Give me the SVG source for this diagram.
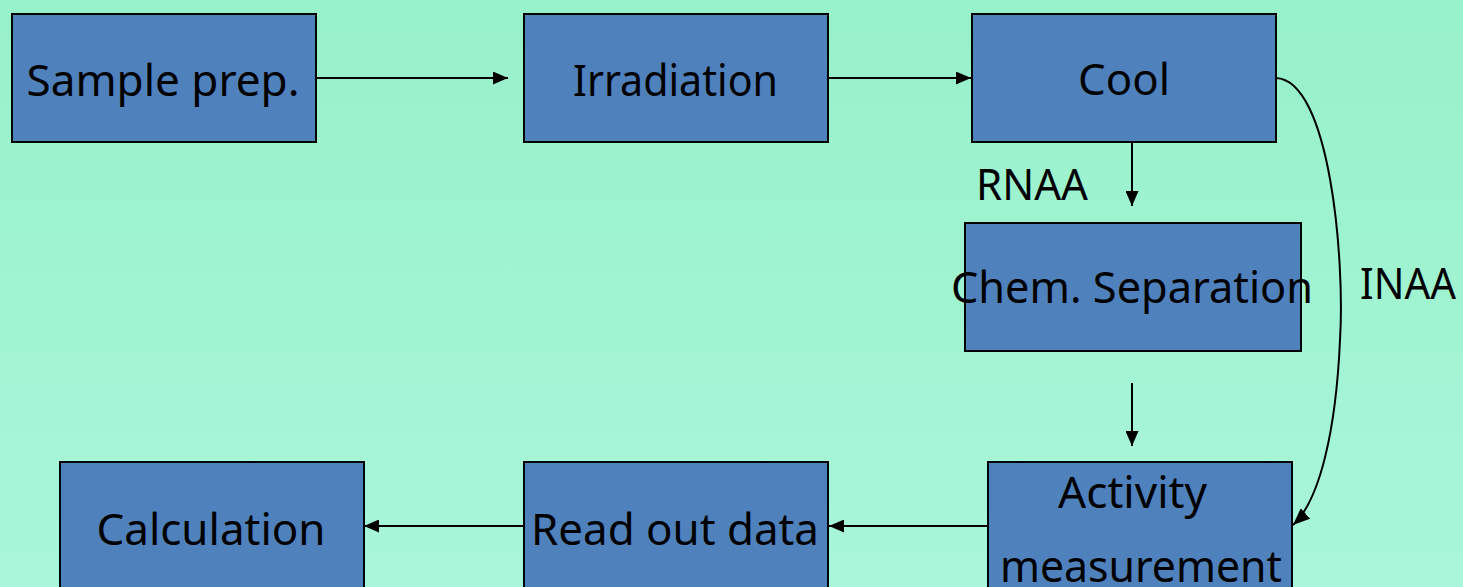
<svg xmlns="http://www.w3.org/2000/svg" width="1463" height="587" viewBox="0 0 1463 587">
<defs>
<linearGradient id="bg" x1="0" y1="0" x2="0" y2="1">
<stop offset="0" stop-color="#97f1c9"/>
<stop offset="1" stop-color="#a9f6da"/>
</linearGradient>
<marker id="ah" viewBox="0 0 10 10" refX="10" refY="5" markerWidth="15" markerHeight="13" markerUnits="userSpaceOnUse" orient="auto" preserveAspectRatio="none">
<path d="M0,0 L10,5 L0,10 z" fill="#000"/>
</marker>
<marker id="ahc" viewBox="0 0 10 10" refX="10" refY="5" markerWidth="17" markerHeight="14" markerUnits="userSpaceOnUse" orient="auto" preserveAspectRatio="none">
<path d="M0,0 L10,5 L0,10 z" fill="#000"/>
</marker>
</defs>
<style>
.box{fill:#4f81bd;stroke:#000;stroke-width:2}
.t{font-family:"Noto Sans","Open Sans",sans-serif;font-size:43px;fill:#000;text-anchor:middle}
.c{fill:none;stroke:#000;stroke-width:2}
</style>
<rect width="1463" height="587" fill="url(#bg)"/>
<g id="sample"><rect class="box" x="12" y="14" width="304" height="128"/><text class="t" x="163" y="96" textLength="273" lengthAdjust="spacingAndGlyphs">Sample prep.</text></g>
<g id="irradiation"><rect class="box" x="524" y="14" width="304" height="128"/><text class="t" x="675.5" y="96" textLength="205" lengthAdjust="spacingAndGlyphs">Irradiation</text></g>
<g id="cool"><rect class="box" x="972" y="14" width="304" height="128"/><text class="t" x="1124" y="95" textLength="92" lengthAdjust="spacingAndGlyphs">Cool</text></g>
<g id="chem"><rect class="box" x="965" y="223" width="336" height="128"/><text class="t" x="1132" y="303" textLength="362" lengthAdjust="spacingAndGlyphs">Chem. Separation</text></g>
<g id="activity"><rect class="box" x="988" y="462" width="304" height="140"/><text class="t" x="1132.5" y="508" textLength="149" lengthAdjust="spacingAndGlyphs">Activity</text><text class="t" x="1141" y="582" textLength="282" lengthAdjust="spacingAndGlyphs">measurement</text></g>
<g id="readout"><rect class="box" x="524" y="462" width="304" height="140"/><text class="t" x="675" y="545" textLength="288" lengthAdjust="spacingAndGlyphs">Read out data</text></g>
<g id="calc"><rect class="box" x="60" y="462" width="304" height="140"/><text class="t" x="211" y="545" textLength="229" lengthAdjust="spacingAndGlyphs">Calculation</text></g>
<g id="labels">
<text class="t" x="1032" y="200" textLength="112" lengthAdjust="spacingAndGlyphs">RNAA</text>
<text class="t" x="1408" y="299" textLength="96" lengthAdjust="spacingAndGlyphs">INAA</text>
</g>
<g id="connectors">
<line class="c" x1="316" y1="78" x2="508" y2="78" marker-end="url(#ah)"/>
<line class="c" x1="828" y1="78" x2="971" y2="78" marker-end="url(#ah)"/>
<line class="c" x1="1132" y1="142" x2="1132" y2="206" marker-end="url(#ah)"/>
<line class="c" x1="1132" y1="383" x2="1132" y2="446" marker-end="url(#ah)"/>
<line class="c" x1="988" y1="526" x2="829" y2="526" marker-end="url(#ah)"/>
<line class="c" x1="524" y1="526" x2="364" y2="526" marker-end="url(#ah)"/>
<path class="c" d="M1276,78 C1330,80 1345,260 1340,340 C1336,430 1320,500 1293,525" marker-end="url(#ahc)"/>
</g>
</svg>
